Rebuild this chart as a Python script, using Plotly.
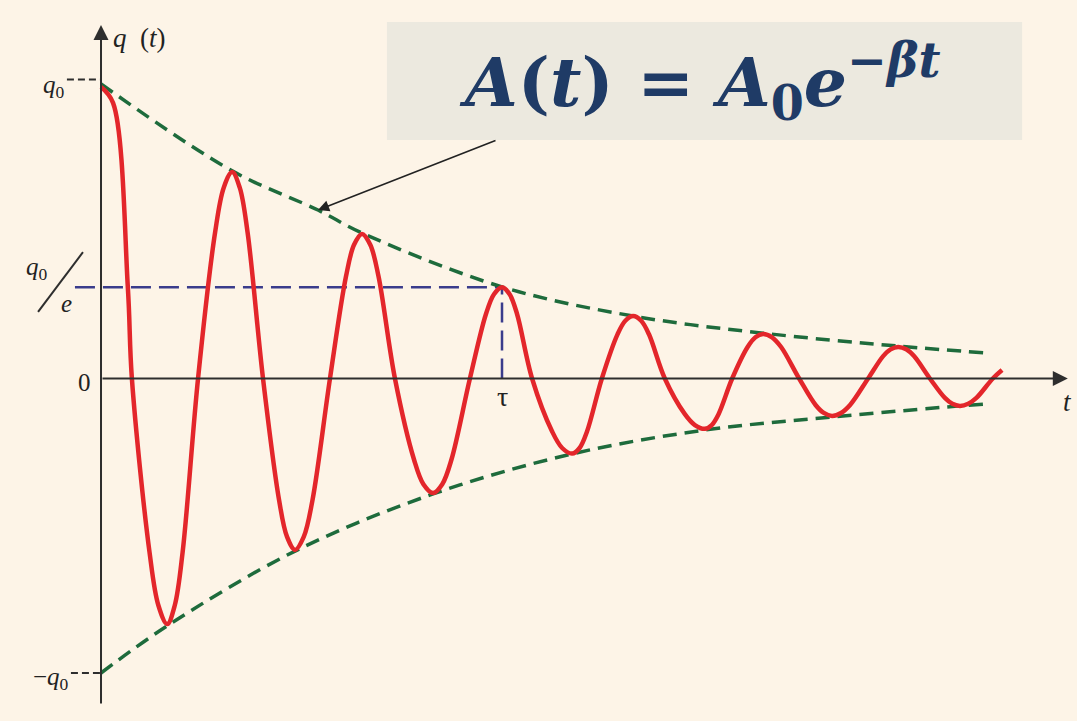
import plotly.graph_objects as go

# Damped oscillation q(t), time in units of tau, charge in units of q0
t_curve = [0.0, 0.030, 0.067, 0.077, 0.121, 0.143, 0.165, 0.184, 0.2035, 0.242,
           0.2845, 0.306, 0.327, 0.346, 0.3655, 0.404, 0.444, 0.464, 0.484, 0.5055,
           0.5275, 0.571, 0.611, 0.631, 0.651, 0.6715, 0.692, 0.733, 0.7805, 0.804,
           0.828, 0.851, 0.874, 0.920, 0.960, 0.980, 1.0, 1.019, 1.0375, 1.075,
           1.125, 1.150, 1.175, 1.1935, 1.212, 1.249, 1.288, 1.3075, 1.327, 1.347,
           1.3665, 1.406, 1.456, 1.481, 1.506, 1.523, 1.540, 1.574, 1.6125, 1.632,
           1.651, 1.6735, 1.696, 1.741, 1.782, 1.8025, 1.823, 1.8455, 1.868, 1.913,
           1.9505, 1.969, 1.988, 2.008, 2.0275, 2.067, 2.1045, 2.123, 2.142, 2.1625,
           2.183, 2.224, 2.247]
q_curve = [0.99, 0.936, 0.307, 0.0, -0.59, -0.77, -0.834, -0.77, -0.59, 0.0,
           0.496, 0.648, 0.701, 0.648, 0.496, 0.0, -0.412, -0.538, -0.582, -0.538,
           -0.412, 0.0, 0.347, 0.454, 0.491, 0.454, 0.347, 0.0, -0.275, -0.359,
           -0.389, -0.359, -0.275, 0.0, 0.219, 0.286, 0.31, 0.286, 0.219, 0.0,
           -0.18, -0.236, -0.255, -0.236, -0.18, 0.0, 0.15, 0.196, 0.212, 0.196,
           0.15, 0.0, -0.121, -0.158, -0.171, -0.158, -0.121, 0.0, 0.107, 0.14,
           0.151, 0.14, 0.107, 0.0, -0.09, -0.117, -0.127, -0.117, -0.09, 0.0,
           0.076, 0.099, 0.107, 0.099, 0.076, 0.0, -0.066, -0.086, -0.093, -0.086,
           -0.066, 0.0, 0.029]

# Amplitude envelope +/- A(t)
t_env_up = [0.0, 0.327, 0.541, 0.651, 1.0, 1.327, 1.651, 1.988, 2.204]
q_env_up = [1.0, 0.705, 0.572, 0.494, 0.311, 0.212, 0.154, 0.110, 0.087]
t_env_low = [0.0, 0.165, 0.484, 0.828, 1.175, 1.506, 1.823, 2.142, 2.204]
q_env_low = [-1.0, -0.84, -0.586, -0.392, -0.256, -0.175, -0.131, -0.093, -0.087]

Q0 = 1.0
Q0_OVER_E = 0.31
TAU = 1.0

BG = "#fdf4e7"
RED = "#e3262b"
GREEN = "#1e6b3c"
BLUE = "#3a3c8c"
AXIS = "#2e2e2e"
SERIF = "Liberation Serif"

fig = go.Figure()

for tx, qy in ((t_env_up, q_env_up), (t_env_low, q_env_low)):
    fig.add_trace(go.Scatter(x=tx, y=qy, mode="lines",
                             line=dict(color=GREEN, width=3.5, dash="14px,8px", shape="spline"),
                             hoverinfo="skip"))
fig.add_trace(go.Scatter(x=t_curve, y=q_curve, mode="lines",
                         line=dict(color=RED, width=4.5, shape="spline", smoothing=1.0),
                         hoverinfo="skip"))

shapes = [
    # formula panel
    dict(type="rect", x0=0.713, x1=2.297, y0=0.8098, y1=1.2105,
         fillcolor="#ece9df", line=dict(width=0), layer="below"),
    # q0/e level and tau marker
    dict(type="line", x0=-0.065, x1=TAU, y0=Q0_OVER_E, y1=Q0_OVER_E,
         line=dict(color=BLUE, width=2.5, dash="20px,8px"), layer="below"),
    dict(type="line", x0=TAU, x1=TAU, y0=0, y1=Q0_OVER_E,
         line=dict(color=BLUE, width=2.5, dash="20px,8px"), layer="below"),
    # ticks at +q0 and -q0
    dict(type="line", x0=-0.085, x1=0, y0=Q0 + 0.015, y1=Q0 + 0.015,
         line=dict(color=AXIS, width=2, dash="7px,4px")),
    dict(type="line", x0=-0.075, x1=0, y0=-Q0, y1=-Q0,
         line=dict(color=AXIS, width=2, dash="7px,4px")),
    # fraction slash of q0/e
    dict(type="line", x0=-0.157, x1=-0.045, y0=0.226, y1=0.429,
         line=dict(color=AXIS, width=2)),
]

ann = []
# axes with arrowheads
ann.append(dict(x=2.411, y=0, ax=0, ay=0, xref="x", yref="y", axref="x", ayref="y",
                text="", showarrow=True, arrowhead=2, arrowsize=1.5, arrowwidth=2,
                arrowcolor=AXIS))
ann.append(dict(x=0, y=1.2003, ax=0, ay=-1.109, xref="x", yref="y", axref="x", ayref="y",
                text="", showarrow=True, arrowhead=2, arrowsize=1.5, arrowwidth=2,
                arrowcolor=AXIS))
# pointer from formula to envelope
ann.append(dict(x=0.541, y=0.572, ax=0.9875, ay=0.81, xref="x", yref="y", axref="x", ayref="y",
                text="", showarrow=True, arrowhead=2, arrowsize=1.4, arrowwidth=1.6,
                arrowcolor="#222222"))

lab = dict(family=SERIF, size=25, color="#222222")
ann += [
    dict(x=0.024, y=1.156, text="<i>q</i>  (<i>t</i>)", xanchor="left", yanchor="middle",
         showarrow=False, font=dict(family=SERIF, size=27, color="#222222")),
    dict(x=-0.085, y=0.99, text="<i>q</i><sub>0</sub>", xanchor="right", yanchor="middle",
         showarrow=False, font=lab),
    dict(x=-0.16, y=0.372, text="<i>q</i><sub>0</sub>", xanchor="center", yanchor="middle",
         showarrow=False, font=lab),
    dict(x=-0.087, y=0.256, text="<i>e</i>", xanchor="center", yanchor="middle",
         showarrow=False, font=lab),
    dict(x=-0.042, y=-0.015, text="0", xanchor="center", yanchor="middle",
         showarrow=False, font=lab),
    dict(x=-0.075, y=-1.018, text="−<i>q</i><sub>0</sub>", xanchor="right", yanchor="middle",
         showarrow=False, font=lab),
    dict(x=TAU, y=-0.06, text="τ", xanchor="center", yanchor="middle",
         showarrow=False, font=dict(family=SERIF, size=28, color="#222222")),
    dict(x=2.411, y=-0.08, text="<i>t</i>", xanchor="center", yanchor="middle",
         showarrow=False, font=dict(family=SERIF, size=27, color="#222222")),
    dict(x=1.494, y=1.0068,
         text="<b><i>A</i>(<i>t</i>) = <i>A</i><sub>0</sub><i>e</i><sup>−<i>βt</i></sup></b>",
         xanchor="center", yanchor="middle", showarrow=False,
         font=dict(family="DejaVu Serif", size=68, color="#1f3b66")),
]

fig.update_layout(
    width=1077, height=721,
    margin=dict(l=0, r=0, t=0, b=0),
    paper_bgcolor=BG, plot_bgcolor=BG,
    showlegend=False,
    xaxis=dict(range=[-0.2519, 2.4339], visible=False, fixedrange=True),
    yaxis=dict(range=[-1.163, 1.2852], visible=False, fixedrange=True),
    shapes=shapes,
    annotations=ann,
)

fig.write_html("out.html")
